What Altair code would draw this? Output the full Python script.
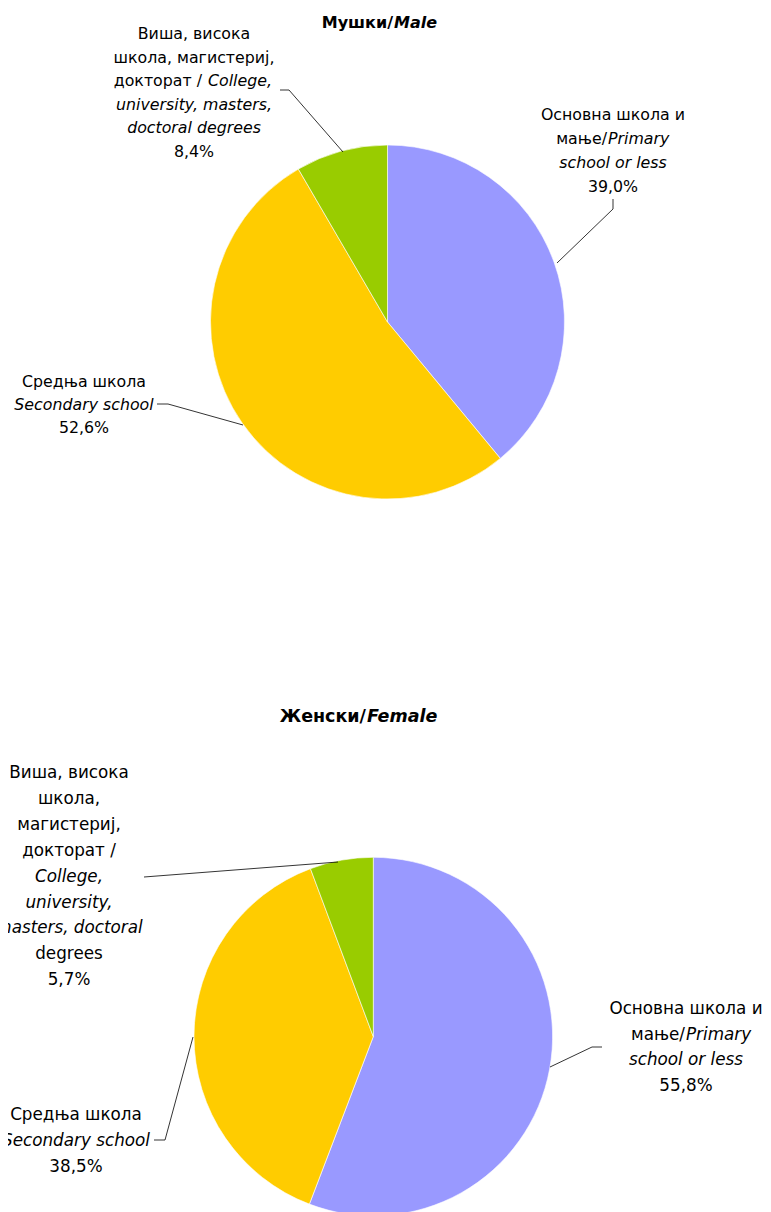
import altair as alt
import pandas as pd

# ---------------- data ----------------
cat_keys = ["primary", "secondary", "higher"]
colors = ["#9999FF", "#FFCC00", "#99CC00"]
male_values = [39.0, 52.6, 8.4]
female_values = [55.8, 38.5, 5.7]

title_male = [("Мушки/", "b"), ("Male", "bi")]
title_female = [("Женски/", "b"), ("Female", "bi")]

# label texts: list of lines, each line = list of (text, style) ; n = normal, i = italic
male_labels = {
    "primary": [[("Основна школа и", "n")], [("мање/", "n"), ("Primary", "i")], [("school or less", "i")]],
    "secondary": [[("Средња школа", "n")], [("Secondary school", "i")]],
    "higher": [[("Виша, висока", "n")], [("школа, магистериј,", "n")],
               [("докторат /", "n"), ("College,", "i")], [("university, masters,", "i")],
               [("doctoral degrees", "i")]],
}
female_labels = {
    "primary": [[("Основна школа и", "n")], [("мање/", "n"), ("Primary", "i")], [("school or less", "i")]],
    "secondary": [[("Средња школа", "n")], [("Secondary school", "i")]],
    "higher": [[("Виша, висока", "n")], [("школа,", "n")], [("магистериј,", "n")], [("докторат /", "n")],
               [("College,", "i")], [("university,", "i")], [("masters, doctoral", "i")],
               [("degrees", "n")]],
}

# ---------------- layout (page pixel coordinates) ----------------
OFF = 8
W, H = 755, 1204
FONT = "DejaVu Sans"

panels = {
    "male": dict(values=male_values, labels=male_labels, title=title_male,
                 cx=387.5, cy=322, r=177, fs=15.8, tfs=16, title_split=393, title_y=23,
                 blocks={
                     "primary": dict(cx=613, y0=115, dy=24, splits={1: (607, 1)}),
                     "secondary": dict(cx=84, y0=382, dy=23.2, splits={}),
                     "higher": dict(cx=194, y0=34, dy=23.6, splits={2: (202, 6)}),
                 },
                 leaders={
                     "primary": [(613, 199), (613, 209), (557, 263)],
                     "secondary": [(157, 404), (168, 404), (243, 425)],
                     "higher": [(280, 90), (289, 90), (343, 152)],
                 }),
    "female": dict(values=female_values, labels=female_labels, title=title_female,
                   cx=373.3, cy=1036.6, r=179.3, fs=16.8, tfs=17.5, title_split=366, title_y=717,
                   blocks={
                       "primary": dict(cx=686, y0=1009, dy=25.6, splits={1: (685, 1)}),
                       "secondary": dict(cx=76, y0=1115, dy=26.2, splits={}),
                       "higher": dict(cx=69, y0=773, dy=25.9, splits={}),
                   },
                   leaders={
                       "primary": [(602, 1047), (592, 1047), (550, 1067)],
                       "secondary": [(154, 1140), (165, 1140), (193, 1037)],
                       "higher": [(144, 877), (338, 862)],
                   }),
}


def pct(v):
    return f"{v:.1f}".replace(".", ",") + "%"


arc_layers = []
text_rows = []
line_rows = []

for sex, p in panels.items():
    df = pd.DataFrame({"cat": cat_keys, "value": p["values"], "order": [0, 1, 2]})
    arc_layers.append(
        alt.Chart(df).mark_arc(outerRadius=p["r"], stroke="white", strokeWidth=0.6).encode(
            theta=alt.Theta("value:Q", stack=True),
            color=alt.Color("cat:N", scale=alt.Scale(domain=cat_keys, range=colors), legend=None),
            order=alt.Order("order:Q"),
            x=alt.value(p["cx"] - OFF),
            y=alt.value(p["cy"] - OFF),
        )
    )
    # title
    (t1, s1), (t2, s2) = p["title"]
    text_rows.append(dict(text=t1, x=p["title_split"] - OFF, y=p["title_y"] - OFF, align="right", style=s1, size=p["tfs"]))
    text_rows.append(dict(text=t2, x=p["title_split"] + 1 - OFF, y=p["title_y"] - OFF, align="left", style=s2, size=p["tfs"]))
    # labels
    for i, cat in enumerate(cat_keys):
        b = p["blocks"][cat]
        lines = p["labels"][cat] + [[(pct(p["values"][i]), "n")]]
        for j, segs in enumerate(lines):
            y = b["y0"] + j * b["dy"] - OFF
            if len(segs) == 1:
                text_rows.append(dict(text=segs[0][0], x=b["cx"] - OFF, y=y, align="center", style=segs[0][1], size=p["fs"]))
            else:
                sx, gap = b["splits"][j]
                text_rows.append(dict(text=segs[0][0], x=sx - OFF, y=y, align="right", style=segs[0][1], size=p["fs"]))
                text_rows.append(dict(text=segs[1][0], x=sx + gap - OFF, y=y, align="left", style=segs[1][1], size=p["fs"]))
        for k, (lx, ly) in enumerate(p["leaders"][cat]):
            line_rows.append(dict(id=f"{sex}-{cat}", seq=k, x=lx - OFF, y=ly - OFF))

tdf = pd.DataFrame(text_rows)
ldf = pd.DataFrame(line_rows)

xs = alt.X("x:Q", scale=None, axis=None)
ys = alt.Y("y:Q", scale=None, axis=None)

leaders = alt.Chart(ldf).mark_line(color="black", strokeWidth=0.8).encode(
    x=xs, y=ys, detail="id:N", order="seq:Q"
)

style_map = {"n": ("normal", "normal"), "i": ("italic", "normal"), "b": ("normal", "bold"), "bi": ("italic", "bold")}
text_layers = []
for st, (fstyle, fweight) in style_map.items():
    for al in ["left", "center", "right"]:
        sub = tdf[(tdf["style"] == st) & (tdf["align"] == al)]
        if len(sub) == 0:
            continue
        text_layers.append(
            alt.Chart(sub).mark_text(align=al, baseline="middle", font=FONT, fontStyle=fstyle,
                                     fontWeight=fweight, color="black").encode(
                x=xs, y=ys, text="text:N", size=alt.Size("size:Q", scale=None, legend=None)
            )
        )

chart = alt.layer(*arc_layers, leaders, *text_layers).resolve_scale(theta="independent").properties(
    width=W, height=H, padding=0, autosize="none"
).configure_view(stroke=None)

chart.save("out.html", embed_options={"renderer": "svg", "actions": False})
